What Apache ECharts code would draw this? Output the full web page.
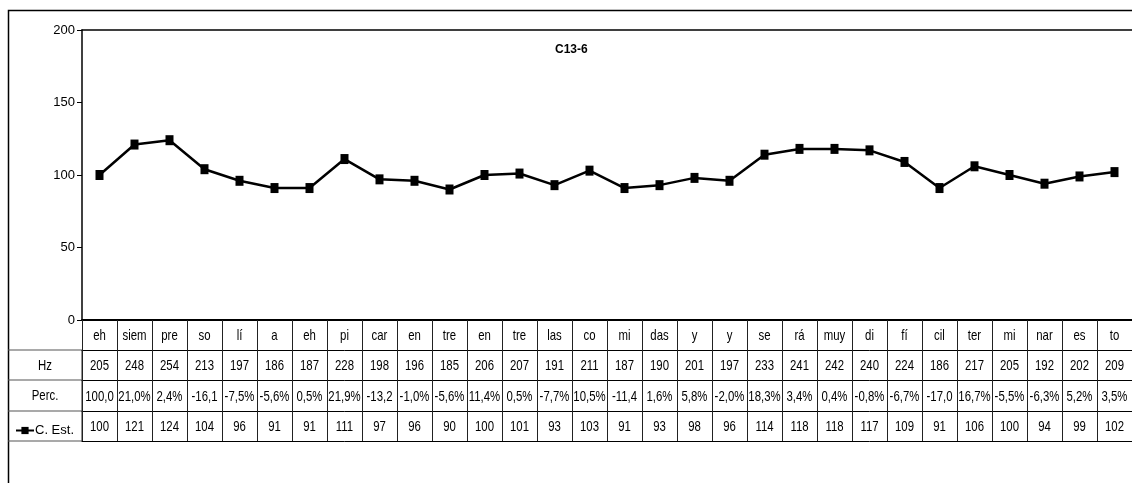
<!DOCTYPE html>
<html>
<head>
<meta charset="utf-8">
<script src="https://cdn.jsdelivr.net/npm/echarts@6/dist/echarts.min.js"></script>
<style>
  html, body { margin: 0; padding: 0; background: #fff; }
  #chart { width: 1132px; height: 483px; }
</style>
</head>
<body>
<div id="chart"></div>
<script>
// Syllables of the utterance (one column per syllable)
const syllables = ['eh','siem','pre','so','lí','a','eh','pi','car','en','tre','en','tre','las','co','mi','das','y','y','se','rá','muy','di','fí','cil','ter','mi','nar','es','to'];
// Fundamental frequency per syllable
const hz = [205,248,254,213,197,186,187,228,198,196,185,206,207,191,211,187,190,201,197,233,241,242,240,224,186,217,205,192,202,209];
// Percentage change relative to the previous syllable
const perc = ['100,0','21,0%','2,4%','-16,1','-7,5%','-5,6%','0,5%','21,9%','-13,2','-1,0%','-5,6%','11,4%','0,5%','-7,7%','10,5%','-11,4','1,6%','5,8%','-2,0%','18,3%','3,4%','0,4%','-0,8%','-6,7%','-17,0','16,7%','-5,5%','-6,3%','5,2%','3,5%'];
// Standardised contour values (plotted line)
const cEst = [100,121,124,104,96,91,91,111,97,96,90,100,101,93,103,91,93,98,96,114,118,118,117,109,91,106,100,94,99,102];
const yTicks = { min: 0, max: 200, interval: 50 };

const FONT = "'Liberation Sans', Arial, sans-serif";
const FS = 15;
const NARROW = 0.76;   // horizontal squeeze giving a narrow-face look

// Table rows below the x axis: border offsets and text rows
const rowOffsets = [0, 30, 60, 91, 121];
const rowTexts = [syllables, hz.map(String), perc, cEst.map(String)];

// One table cell per (column, row)
const cells = [];
rowTexts.forEach(function (row, r) {
  row.forEach(function (_, c) { cells.push([c, r]); });
});

function borderAxis(offset, ticks) {
  return {
    type: 'category',
    data: syllables,
    position: 'bottom',
    offset: offset,
    boundaryGap: true,
    axisLine: { show: true, lineStyle: { color: '#000', width: offset === 0 ? 2 : 1 } },
    axisTick: ticks
      ? { show: true, length: rowOffsets[rowOffsets.length - 1], lineStyle: { color: '#222', width: 1 } }
      : { show: false },
    axisLabel: { show: false },
    splitLine: { show: false }
  };
}

function narrowText(x, y, text, size) {
  return {
    type: 'text',
    x: x, y: y,
    scaleX: NARROW,
    style: {
      text: text,
      font: (size || FS) + 'px ' + FONT,
      fill: '#000',
      align: 'center',
      verticalAlign: 'middle'
    }
  };
}

const chart = echarts.init(document.getElementById('chart'), null, { renderer: 'canvas' });

const leftLines = [30, 60, 91, 121].map(function (o) {
  return {
    type: 'line',
    shape: { x1: 8, y1: 320 + o, x2: 82, y2: 320 + o },
    style: { stroke: '#555', lineWidth: 1.2 }
  };
});

chart.setOption({
  animation: false,
  backgroundColor: '#fff',
  textStyle: { fontFamily: FONT },
  title: {
    text: 'C13-6',
    left: 550,
    top: 39,
    textStyle: { fontFamily: FONT, fontSize: 12, fontWeight: 'bold', color: '#000' }
  },
  legend: {
    show: true,
    left: 10,
    top: 419,
    itemWidth: 18,
    itemHeight: 9,
    itemGap: 2,
    textStyle: { fontFamily: FONT, fontSize: 13, color: '#000', padding: [0, 0, 0, -4] },
    data: [{ name: 'C. Est.' }]
  },
  grid: { left: 82, right: 0, top: 30, bottom: 163, containLabel: false },
  xAxis: [
    borderAxis(rowOffsets[0], true),
    borderAxis(rowOffsets[1], false),
    borderAxis(rowOffsets[2], false),
    borderAxis(rowOffsets[3], false),
    borderAxis(rowOffsets[4], false),
    {
      type: 'category',
      data: syllables,
      position: 'top',
      axisLine: { show: true, lineStyle: { color: '#000', width: 1.5 } },
      axisTick: { show: false },
      axisLabel: { show: false }
    }
  ],
  yAxis: {
    type: 'value',
    min: yTicks.min,
    max: yTicks.max,
    interval: yTicks.interval,
    axisLine: { show: true, lineStyle: { color: '#000', width: 1.5 } },
    axisTick: { show: true, length: 5, lineStyle: { color: '#000', width: 1 } },
    axisLabel: { color: '#000', fontFamily: FONT, fontSize: 13, margin: 7 },
    splitLine: { show: false }
  },
  series: [
    {
      name: 'C. Est.',
      type: 'line',
      xAxisIndex: 0,
      data: cEst,
      symbol: 'rect',
      symbolSize: [8, 10],
      itemStyle: { color: '#000' },
      lineStyle: { color: '#000', width: 2.5 },
      z: 3
    },
    {
      // data table texts, positioned by the category axis
      name: 'table',
      type: 'custom',
      xAxisIndex: 0,
      yAxisIndex: 0,
      data: cells,
      clip: false,
      silent: true,
      renderItem: function (params, api) {
        const col = api.value(0);
        const row = api.value(1);
        const base = api.coord([col, yTicks.min]);
        const top = rowOffsets[row];
        const bottom = rowOffsets[row + 1];
        return narrowText(base[0], base[1] + (top + bottom) / 2 + 1, rowTexts[row][col]);
      }
    }
  ],
  graphic: [
    {
      type: 'rect',
      shape: { x: 8.5, y: 10.5, width: 1200, height: 600 },
      style: { fill: null, stroke: '#000', lineWidth: 1.5 },
      silent: true
    },
    {
      type: 'line',
      shape: { x1: 82, y1: 350, x2: 82, y2: 441 },
      style: { stroke: '#222', lineWidth: 1 }
    },
    ...leftLines,
    narrowText(45, 366, 'Hz'),
    narrowText(45, 396, 'Perc.')
  ]
});
</script>
</body>
</html>
